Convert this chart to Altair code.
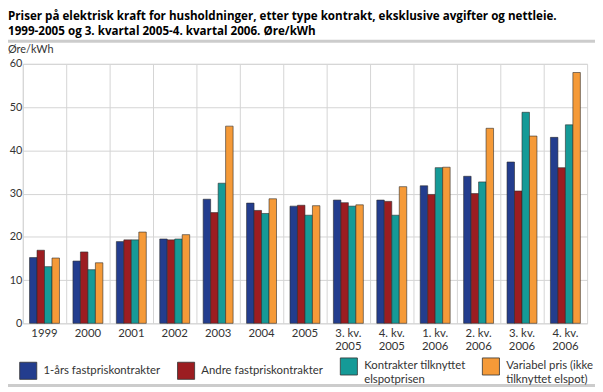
import altair as alt
import pandas as pd

categories = ["1999", "2000", "2001", "2002", "2003", "2004", "2005",
              "3. kv.|2005", "4. kv.|2005", "1. kv.|2006", "2. kv.|2006",
              "3. kv.|2006", "4. kv.|2006"]
series = ["1-års fastpriskontrakter", "Andre fastpriskontrakter",
          "Kontrakter tilknyttet|elspotprisen", "Variabel pris (ikke|tilknyttet elspot)"]
ettars = [15.2, 14.4, 18.9, 19.5, 28.7, 27.8, 27.1, 28.5, 28.5, 31.8, 34.0, 37.3, 43.0]
andre = [16.9, 16.5, 19.3, 19.3, 25.6, 26.1, 27.3, 27.9, 28.2, 29.8, 30.0, 30.6, 36.0]
elspot = [13.1, 12.4, 19.3, 19.5, 32.4, 25.4, 25.0, 27.1, 25.0, 36.0, 32.7, 48.8, 45.9]
variabel = [15.1, 14.0, 21.1, 20.5, 45.6, 28.8, 27.2, 27.4, 31.6, 36.1, 45.1, 43.3, 58.0]
colors = ["#233d8e", "#9c1d21", "#159a97", "#f59a38"]
y_ticks = [0, 10, 20, 30, 40, 50, 60]

rows = []
for s, vals in zip(series, [ettars, andre, elspot, variabel]):
    for c, v in zip(categories, vals):
        rows.append({"kategori": c, "serie": s, "verdi": v})
df = pd.DataFrame(rows)

FONT = "Lato"
TITLE_FONT = "Open Sans"
PAD_L = 15

bars = alt.Chart(df).mark_bar(stroke="#2a2a2a", strokeWidth=0.7, strokeOpacity=0.85).encode(
    x=alt.X("kategori:N", sort=categories, title=None,
            scale=alt.Scale(paddingInner=0, paddingOuter=0),
            axis=alt.Axis(labelAngle=0, labelExpr="split(datum.label, '|')",
                          labelFontSize=11.5, labelColor="#333333", labelPadding=4,
                          ticks=False, domain=False, grid=True, bandPosition=0,
                          gridColor="#d4d4d4", labelLineHeight=14)),
    xOffset=alt.XOffset("serie:N", sort=series,
                        scale=alt.Scale(paddingInner=0, paddingOuter=0.9)),
    y=alt.Y("verdi:Q", title=None,
            scale=alt.Scale(domain=[0, 60], nice=False),
            axis=alt.Axis(values=y_ticks, labelFontSize=11, labelColor="#333333",
                          labelPadding=1, ticks=False, domain=False,
                          gridColor="#d4d4d4")),
    color=alt.Color("serie:N", sort=series,
                    scale=alt.Scale(domain=series, range=colors),
                    legend=alt.Legend(title=None, orient="none", legendX=-4, legendY=297,
                                      columns=4, columnPadding=15, symbolType="square",
                                      symbolSize=300, symbolStrokeColor="#333333",
                                      symbolStrokeWidth=0.8, symbolOpacity=1,
                                      labelFontSize=11.5, labelColor="#333333",
                                      labelLimit=300, labelOffset=6,
                                      labelExpr="split(datum.label, '|')")),
)

sep_top = alt.Chart(pd.DataFrame({"a": [0]})).mark_rule(color="#cccccc", strokeWidth=3).encode(
    x=alt.value(-PAD_L), x2=alt.value(590), y=alt.value(-23))
sep_bot = alt.Chart(pd.DataFrame({"a": [0]})).mark_rule(color="#cccccc", strokeWidth=3).encode(
    x=alt.value(-PAD_L), x2=alt.value(590), y=alt.value(326))

chart = alt.layer(bars, sep_top, sep_bot).properties(
    width=572, height=263,
    autosize=alt.AutoSizeParams(type="none"),
    padding={"left": PAD_L, "top": 54, "right": 8, "bottom": 67},
    title=alt.TitleParams(
        text=["Priser på elektrisk kraft for husholdninger, etter type kontrakt, eksklusive avgifter og nettleie.",
              "1999-2005 og 3. kvartal 2005-4. kvartal 2006. Øre/kWh"],
        subtitle="Øre/kWh", anchor="start", frame="group", dx=-PAD_L,
        fontSize=11.8, fontWeight="bold", color="#000000", lineHeight=15,
        subtitleFontSize=11, subtitleColor="#333333", subtitlePadding=6,
        offset=-15, font=TITLE_FONT, subtitleFont=FONT),
).configure(font=FONT).configure_view(stroke="#d4d4d4")

chart.save("out.html", embed_options={"renderer": "svg", "actions": False})
